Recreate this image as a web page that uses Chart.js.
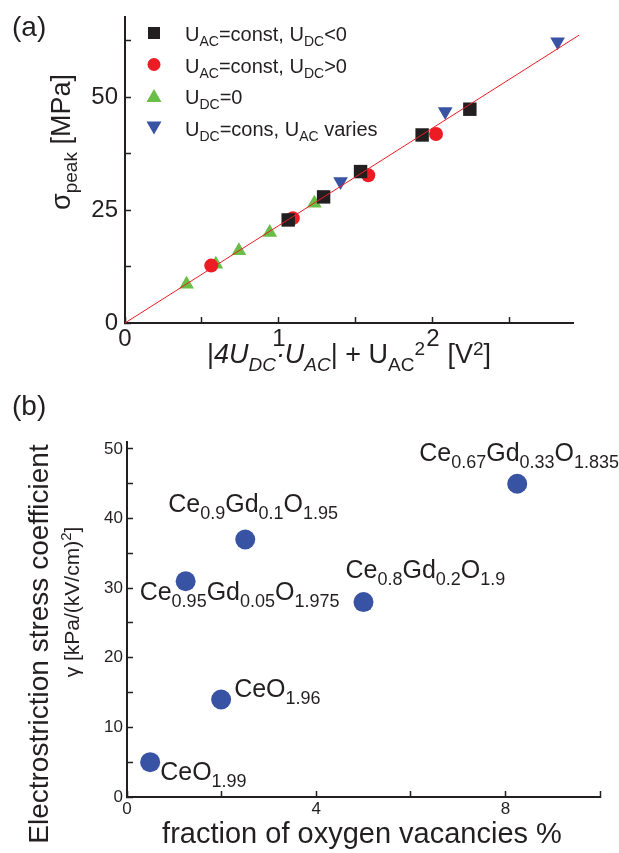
<!DOCTYPE html>
<html>
<head>
<meta charset="utf-8">
<script src="https://cdn.jsdelivr.net/npm/chart.js@4"></script>
<style>
  body { margin: 0; background: #fff; width: 619px; height: 853px; position: relative; overflow: hidden; }
  canvas { position: absolute; left: 0; }
  #chart-a { top: 0; }
  #chart-b { top: 390px; }
</style>
</head>
<body>
<canvas id="chart-a" width="619" height="390"></canvas>
<canvas id="chart-b" width="619" height="463"></canvas>
<script>
// panel (a): peak stress vs |4 Udc Uac| + Uac^2
const seriesNames = ['U_{AC}=const, U_{DC}<0', 'U_{AC}=const, U_{DC}>0', 'U_{DC}=0', 'U_{DC}=cons, U_{AC} varies'];
const negDcX = [1.06, 1.29, 1.53, 1.93, 2.24];
const negDcY = [22.8, 27.9, 33.5, 41.6, 47.3];
const posDcX = [0.56, 1.09, 1.58, 2.02];
const posDcY = [12.7, 23.2, 32.7, 41.8];
const zeroDcX = [0.40, 0.59, 0.74, 0.94, 1.23];
const zeroDcY = [8.6, 13.0, 16.0, 20.0, 26.5];
const acVarX = [1.40, 2.08, 2.81];
const acVarY = [31.3, 46.8, 62.2];
const fitX = [0, 2.95];
const fitY = [0, 63.7];

// panel (b): electrostriction coefficient vs oxygen vacancies
const compounds = ['CeO_{1.99}', 'CeO_{1.96}', 'Ce_{0.95}Gd_{0.05}O_{1.975}', 'Ce_{0.9}Gd_{0.1}O_{1.95}', 'Ce_{0.8}Gd_{0.2}O_{1.9}', 'Ce_{0.67}Gd_{0.33}O_{1.835}'];
const vacancyPct = [0.49, 1.99, 1.24, 2.5, 5.0, 8.25];
const gammaCoef = [5, 14, 31, 37, 28, 45];

const FONT = "'Liberation Sans', Arial, Helvetica, sans-serif";
const INK = '#231f20';
const RED = '#ed1c24';
const GREEN = '#6abd45';
const BLUE = '#3953a4';

const pts = (xs, ys) => xs.map((x, i) => ({ x, y: ys[i] }));

// text with _{sub}, ^{sup} and *italic* runs
function segs(str) {
  let italic = false;
  const out = [];
  str.split(/(_\{[^}]*\}|\^\{[^}]*\}|\*)/).forEach(p => {
    if (!p) return;
    if (p === '*') { italic = !italic; return; }
    if (p.startsWith('_{')) out.push({ t: p.slice(2, -1), k: 'sub', italic });
    else if (p.startsWith('^{')) out.push({ t: p.slice(2, -1), k: 'sup', italic });
    else out.push({ t: p, k: 'main', italic });
  });
  return out;
}

function drawRich(ctx, str, x, y, o) {
  const list = segs(str);
  const fontOf = s => (s.italic ? 'italic ' : '') + (s.k === 'main' ? o.size : o.small) + 'px ' + FONT;
  let w = 0;
  list.forEach(s => { ctx.font = fontOf(s); s.w = ctx.measureText(s.t).width; w += s.w; });
  let cx = o.align === 'center' ? x - w / 2 : x;
  ctx.textAlign = 'left';
  ctx.textBaseline = 'alphabetic';
  ctx.fillStyle = INK;
  list.forEach(s => {
    ctx.font = fontOf(s);
    const dy = s.k === 'sub' ? (o.subShift || 0) : s.k === 'sup' ? -(o.supShift || 0) : 0;
    ctx.fillText(s.t, cx, y + dy);
    cx += s.w;
  });
}

function drawRotated(ctx, str, x, y, o) {
  ctx.save();
  ctx.translate(x, y);
  ctx.rotate(-Math.PI / 2);
  drawRich(ctx, str, 0, 0, Object.assign({ align: 'center' }, o));
  ctx.restore();
}

function marker(ctx, style, x, y, color) {
  ctx.fillStyle = color;
  ctx.beginPath();
  if (style === 'rect') ctx.rect(x - 6, y - 6, 12, 12);
  else if (style === 'circle') ctx.arc(x, y, 6.5, 0, Math.PI * 2);
  else if (style === 'up') { ctx.moveTo(x, y - 7); ctx.lineTo(x + 7.5, y + 6); ctx.lineTo(x - 7.5, y + 6); }
  else { ctx.moveTo(x, y + 7); ctx.lineTo(x + 7.5, y - 6); ctx.lineTo(x - 7.5, y - 6); }
  ctx.closePath();
  ctx.fill();
}

const near = (v, n) => Math.abs(v / n - Math.round(v / n)) < 1e-6;

function axis(o) {
  return {
    type: 'linear', position: o.position, min: 0, max: o.max,
    afterBuildTicks: s => { s.ticks = s.ticks.filter(t => near(t.value, o.step)); },
    afterFit: s => {
      if (o.position === 'left') s.width = o.size; else s.height = o.size;
      s.paddingTop = s.paddingBottom = s.paddingLeft = s.paddingRight = 0;
    },
    border: { color: INK, width: 2 },
    grid: { drawOnChartArea: false, drawTicks: true, tickLength: -6, tickColor: INK, tickWidth: 1.5 },
    ticks: {
      stepSize: o.step, autoSkip: false, maxRotation: 0, includeBounds: false, color: INK, padding: o.pad,
      font: { family: FONT, size: o.font },
      callback: v => (near(v, o.label) ? String(Math.round(v)) : '')
    }
  };
}

const panelA = {
  id: 'panelA',
  afterDraw(chart) {
    const ctx = chart.ctx;
    drawRich(ctx, '(a)', 12, 36, { size: 28 });
    const styles = [['rect', INK], ['circle', RED], ['up', GREEN], ['down', BLUE]];
    seriesNames.forEach((name, i) => {
      const y = 33 + i * 31.5;
      marker(ctx, styles[i][0], 154, y, styles[i][1]);
      drawRich(ctx, name, 185, y + 8, { size: 20, small: 14, subShift: 5 });
    });
    drawRotated(ctx, '\u03c3_{peak} [MPa]', 70, 142, { size: 27, small: 19, subShift: 7 });
    drawRich(ctx, '|*4U_{DC}\u00b7U_{AC}*| + U_{AC}^{2}   [V^{2}]', 349, 363,
      { size: 27, small: 19, subShift: 8, supShift: 8, align: 'center' });
  }
};

new Chart(document.getElementById('chart-a'), {
  type: 'scatter',
  data: {
    datasets: [
      { data: pts(fitX, fitY), showLine: true, clip: false, borderColor: RED, borderWidth: 1, pointRadius: 0 },
      { data: pts(negDcX, negDcY), pointStyle: 'rect', pointRadius: 9.5, backgroundColor: INK, borderWidth: 0 },
      { data: pts(posDcX, posDcY), pointStyle: 'circle', pointRadius: 7, backgroundColor: RED, borderWidth: 0 },
      { data: pts(zeroDcX, zeroDcY), pointStyle: 'triangle', pointRadius: 8.5, backgroundColor: GREEN, borderWidth: 0 },
      { data: pts(acVarX, acVarY), pointStyle: 'triangle', rotation: 180, pointRadius: 8.5, backgroundColor: BLUE, borderWidth: 0 }
    ]
  },
  options: {
    responsive: false, animation: false,
    layout: { padding: { left: 0, top: 17, right: 46, bottom: 0 } },
    plugins: { legend: { display: false }, tooltip: { enabled: false } },
    scales: {
      x: axis({ position: 'bottom', max: 2.91, step: 0.5, label: 1, size: 67, pad: 8, font: 24 }),
      y: axis({ position: 'left', max: 67.7, step: 12.5, label: 25, size: 125, pad: 13, font: 24 })
    }
  },
  plugins: [panelA]
});

// label offsets from each point (left edge, baseline), in px
const labelOffsets = [[10, 18], [13, -3], [-46, 19], [-77, -27], [-18, -24], [-98, -23]];

const panelB = {
  id: 'panelB',
  afterDatasetsDraw(chart) {
    const ctx = chart.ctx;
    const xs = chart.scales.x, ys = chart.scales.y;
    compounds.forEach((name, i) => {
      const px = xs.getPixelForValue(vacancyPct[i]);
      const py = ys.getPixelForValue(gammaCoef[i]);
      drawRich(ctx, name, px + labelOffsets[i][0], py + labelOffsets[i][1], { size: 25, small: 18, subShift: 7 });
    });
  },
  afterDraw(chart) {
    const ctx = chart.ctx;
    drawRich(ctx, '(b)', 12, 25, { size: 28 });
    drawRotated(ctx, 'Electrostriction stress coefficient', 48, 254, { size: 28 });
    drawRotated(ctx, '\u03b3 [kPa/(kV/cm)^{2}]', 79, 212, { size: 21, small: 15, supShift: 8 });
    drawRich(ctx, 'fraction of oxygen vacancies %', 362, 453, { size: 29, align: 'center' });
  }
};

new Chart(document.getElementById('chart-b'), {
  type: 'scatter',
  data: {
    datasets: [
      { data: pts(vacancyPct, gammaCoef), pointStyle: 'circle', pointRadius: 10, backgroundColor: BLUE, borderWidth: 0 }
    ]
  },
  options: {
    responsive: false, animation: false,
    layout: { padding: { left: 0, top: 52, right: 19, bottom: 0 } },
    plugins: { legend: { display: false }, tooltip: { enabled: false } },
    scales: {
      x: axis({ position: 'bottom', max: 10, step: 2, label: 4, size: 56, pad: 8, font: 17 }),
      y: axis({ position: 'left', max: 51, step: 5, label: 10, size: 127, pad: 10, font: 17 })
    }
  },
  plugins: [panelB]
});
</script>
</body>
</html>
